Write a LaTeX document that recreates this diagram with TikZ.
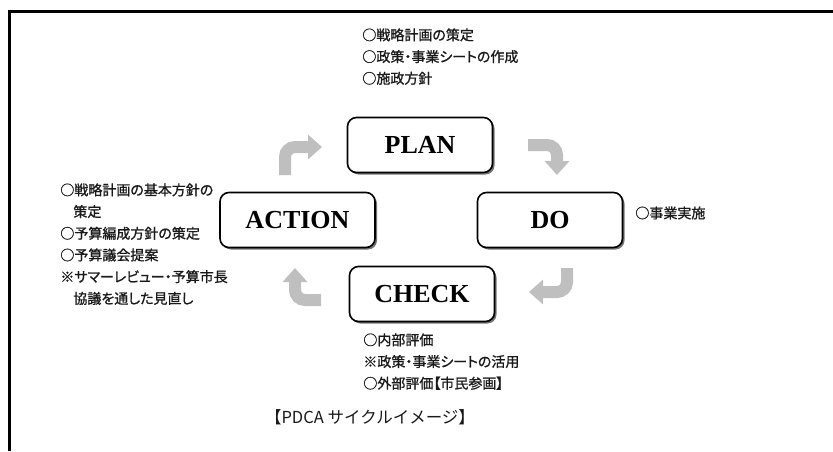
\documentclass[tikz,border=0pt]{standalone}
\usepackage{fontspec}
\setmainfont{Liberation Serif}
\newfontfamily\jpfont{Noto Sans CJK JP}[RawFeature=+palt, FakeBold=1]
\newfontfamily\jplight{Noto Sans CJK JP}
\usetikzlibrary{positioning,arrows.meta,shadows}

\begin{document}
\begin{tikzpicture}[x=1pt, y=1pt, on grid, thick,
  main/.style = {draw, line width=1.6pt, rounded corners=9pt, fill=white, minimum width=145pt, minimum height=55pt, font=\fontsize{26}{30}\selectfont\bfseries, drop shadow={shadow xshift=2pt, shadow yshift=-2pt, fill=black!55, opacity=1}},
  note/.style = {font=\jpfont\fontsize{14}{21.7}\selectfont, text=black!90, align=left, inner sep=0pt},
  turn/.style = {line width=12pt, black!25, rounded corners=10pt, -{Triangle[width=24pt,length=14pt]}}]
      \useasboundingbox (0,0) rectangle (833,451);
      \draw[line width=3pt] (833,439) -- (9,439) -- (9,0);
      \node[main] (1) at (420,306) {PLAN};
      \node[main] (2) [below right=75pt and 130pt of 1] {DO};
      \node[main] (3) [below=149pt of 1, xshift=2pt] {CHECK};
      \node[main, minimum width=155pt] (4) [below left=75pt and 122.5pt of 1] {ACTION};
      \coordinate (a1) at (528,306);
      \coordinate (b1) at (557,276);
      \coordinate (a2) at (567,183);
      \coordinate (b2) at (529,159);
      \coordinate (a3) at (321,151);
      \coordinate (b3) at (295,183);
      \coordinate (a4) at (285,276);
      \coordinate (b4) at (322,304);
      \draw[turn] (a1) -| (b1);
      \draw[turn] (a2) |- (b2);
      \draw[turn] (a3) -| (b3);
      \draw[turn] (a4) |- (b4);
      \node[note, anchor=north west] (5) at (362,423) {○戦略計画の策定\\○政策・事業シートの作成\\○施政方針};
      \node[note, anchor=west] (6) at (635,238) {○事業実施};
      \node[note, anchor=north west] (7) at (363,118) {○内部評価\\※政策・事業シートの活用\\○外部評価【市民参画】};
      \node[note, anchor=north west] (8) at (60,268) {○戦略計画の基本方針の\\\hspace{13pt}策定\\○予算編成方針の策定\\○予算議会提案\\※サマーレビュー・予算市長\\\hspace{13pt}協議を通した見直し};
      \node[note, anchor=center, font=\jplight\fontsize{16.5}{18}\selectfont] (9) at (370,34) {【PDCA サイクルイメージ】};
    \end{tikzpicture}
\end{document}
